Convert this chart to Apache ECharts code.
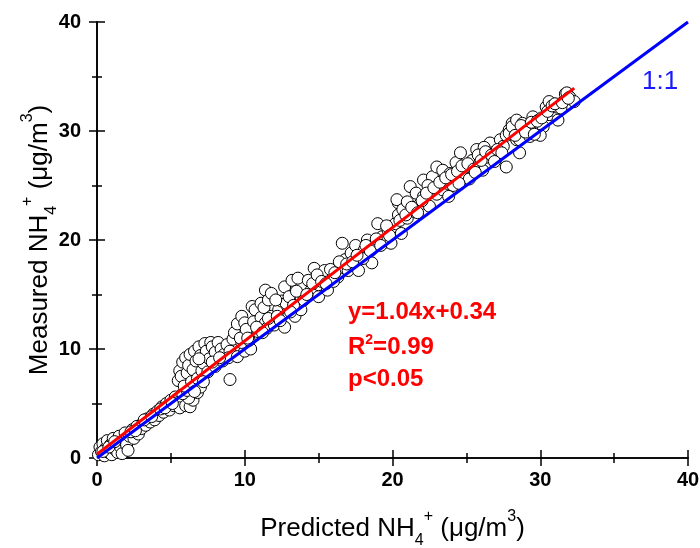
<!DOCTYPE html>
<html>
<head>
<meta charset="utf-8">
<script src="https://cdn.jsdelivr.net/npm/echarts@6/dist/echarts.min.js"></script>
<style>html,body{margin:0;padding:0;background:#fff}#c{width:700px;height:548px}</style>
</head>
<body>
<div id="c"></div>
<script>
// Predicted (x) and Measured (y) NH4+ values, µg/m3
const predicted = [
 0.1,0.2,0.3,0.4,0.5,0.6,0.7,0.8,0.9,1.0,1.1,1.2,1.3,1.4,1.5,1.6,1.7,1.8,1.9,2.0,2.1,2.2,2.4,2.5,2.7,2.8,3.0,3.1,
 3.3,3.4,3.6,3.8,3.9,4.1,4.2,4.4,4.5,4.7,4.9,5.0,5.2,5.3,5.5,
 5.6,6.0,6.3,6.5,6.2,6.8,7.0,5.8,6.1,
 5.5,5.6,5.7,5.8,5.9,6.0,6.1,6.2,6.3,6.4,6.5,6.6,6.7,6.8,6.9,7.0,7.1,7.2,7.3,7.4,7.6,7.7,7.8,8.0,8.2,8.4,8.6,8.8,9.0,9.2,9.0,7.5,8.0,8.5,8.9,
 9.5,10.0,10.4,9.8,
 9.3,9.5,9.7,9.8,10.0,10.1,10.3,10.5,10.6,10.7,10.9,11.1,11.1,11.3,11.4,11.4,11.5,11.6,11.8,11.8,12.0,12.3,12.5,12.7,12.7,12.9,13.2,13.4,13.6,13.8,13.8,
 14.3,14.5,14.7,15.0,15.0,15.4,15.6,15.9,16.3,16.5,16.6,16.8,17.0,17.2,17.5,17.7,17.9,18.1,18.3,18.6,18.8,19.0,19.3,19.5,19.7,19.9,20.0,20.2,20.4,20.4,20.5,20.6,14.0,16.0,18.0,
 20.3,20.7,21.0,21.2,21.5,21.6,21.8,22.1,22.1,22.5,22.7,23.0,23.0,23.4,23.4,23.7,23.9,24.1,24.3,24.6,24.8,25.0,25.2,25.4,25.7,25.9,26.1,26.4,26.6,26.8,27.0,27.3,27.5,27.7,27.9,28.1,28.4,27.7,26.2,22.4,21.0,
 27.9,28.1,28.4,28.6,28.6,28.9,29.1,29.3,29.5,29.7,29.9,30.2,30.4,30.6,30.6,30.9,31.1,31.4,31.7,31.8,32.0,32.3,30.0,31.2,28.8,29.3,
 10.2,10.8,11.2,11.6,12.2,12.4,12.8,13.0,13.3,13.5,13.1,12.1,
 14.2,14.6,14.9,15.2,15.5,15.8,16.1,16.4,16.9,17.3,17.6,18.2,18.5,18.9,19.2,19.6,19.8,
 20.9,21.3,21.7,22.0,22.3,22.8,23.2,23.6,24.0,24.4,24.7,25.1,25.5,25.8,26.0,26.3,26.7,27.1,27.4,24.5,25.6,26.9,23.8,
 28.3,28.7,29.0,29.4,29.8,30.1,30.5,30.8,31.0,31.5,31.9,29.6,
 0.4,0.8,1.2,2.3,2.6,3.2,3.7,4.3,4.6,5.1,6.6,7.2,7.8,8.3,6.9
];
const measured = [
 0.3,1.0,0.6,1.3,0.2,0.9,1.6,0.5,1.2,0.3,1.8,0.8,1.4,0.5,2.0,1.0,0.4,1.6,2.3,1.2,0.7,2.0,2.6,1.8,2.9,2.2,2.7,3.2,
 3.0,3.6,3.3,4.0,3.5,4.3,3.9,4.7,4.2,5.0,4.4,5.3,4.8,5.6,5.1,
 4.6,4.8,4.7,5.3,5.5,6.0,6.5,5.9,6.2,
 7.1,8.0,7.5,8.8,6.6,9.2,7.8,8.5,9.5,7.0,8.1,9.8,8.9,7.3,10.2,9.4,8.0,8.7,10.5,9.8,9.1,10.6,10.2,9.7,10.6,10.0,9.5,10.4,9.8,10.9,7.2,7.9,8.4,8.9,9.2,
 9.3,9.8,10.0,10.6,
 11.5,12.3,11.0,13.0,12.4,11.8,10.8,13.9,12.5,13.6,11.6,14.2,12.9,13.8,15.4,12.4,11.9,14.5,15.1,13.0,12.2,13.6,14.4,15.7,12.0,13.9,16.3,13.0,16.5,14.8,13.6,
 16.3,15.4,17.4,14.8,15.9,17.2,15.4,16.3,16.6,17.5,19.7,18.2,17.2,18.8,19.5,17.2,18.4,19.1,20.0,17.9,19.5,21.5,20.3,19.8,20.9,19.7,21.2,21.5,23.4,22.3,21.8,20.6,14.5,16.2,18.3,
 23.7,22.8,22.0,24.9,22.6,24.3,23.2,25.5,24.0,23.1,25.8,26.7,24.2,26.4,24.6,25.2,26.1,25.0,27.1,28.0,25.8,26.7,25.6,27.3,28.3,27.0,26.4,27.6,28.9,28.0,27.4,29.2,28.6,26.7,30.1,30.7,29.2,29.6,28.5,25.0,23.5,
 29.8,30.4,31.0,29.2,28.0,30.0,30.4,29.5,31.3,30.1,31.0,30.4,32.2,32.7,31.5,31.9,32.2,32.1,33.4,33.5,33.1,32.7,29.6,31.0,30.7,30.1,
 11.0,12.0,11.5,12.8,13.0,12.6,14.2,14.8,14.0,15.3,13.4,14.5,
 15.0,16.0,16.8,16.2,16.0,17.3,17.0,18.0,17.8,18.0,18.6,19.5,19.0,20.1,19.5,21.3,20.4,
 22.3,23.0,22.5,23.6,24.3,24.8,25.3,25.7,26.0,26.3,26.8,27.0,26.5,27.8,27.3,28.1,27.8,28.3,28.0,25.2,26.2,27.2,24.0,
 29.6,30.5,29.9,30.8,30.9,31.2,31.8,32.3,32.5,32.6,33.0,29.7,
 0.6,1.0,1.5,2.4,2.5,3.5,3.8,4.5,4.6,5.0,6.1,7.0,8.8,9.2,9.1
];
// Fit line y = 1.04x + 0.34 (end points) and 1:1 line
const fitX = [0, 32.3];
const fitY = [0.34, 33.93];
const oneX = [0, 40];
const oneY = [0, 40];
const axisTicks = [0, 10, 20, 30, 40];

const points = predicted.map((v, i) => [v, measured[i]]);
const fitData = fitX.map((v, i) => [v, fitY[i]]);
const oneData = oneX.map((v, i) => [v, oneY[i]]);

const FONT = 'Liberation Sans';
const titleRich = {
  m: {fontSize: 26, fontFamily: FONT, color: '#000', lineHeight: 40, verticalAlign: 'middle'},
  sub: {fontSize: 16, fontFamily: FONT, color: '#000', lineHeight: 40, verticalAlign: 'bottom'},
  sup: {fontSize: 16, fontFamily: FONT, color: '#000', lineHeight: 40, verticalAlign: 'top'}
};

function axisBase(extra) {
  return Object.assign({
    type: 'value', min: axisTicks[0], max: axisTicks[axisTicks.length - 1], interval: 10,
    axisLine: {show: true, lineStyle: {color: '#000', width: 1.6}},
    axisTick: {show: true, length: 8, lineStyle: {color: '#000', width: 1.5}},
    minorTick: {show: true, splitNumber: 2, length: 5, lineStyle: {color: '#000', width: 1.5}},
    splitLine: {show: false},
    axisLabel: {show: true, fontFamily: FONT, fontWeight: 'bold', fontSize: 20, color: '#000'}
  }, extra);
}

const chart = echarts.init(document.getElementById('c'), null, {renderer: 'canvas'});
chart.setOption({
  animation: false,
  backgroundColor: '#fff',
  grid: {left: 97, right: 12, top: 22, bottom: 90, containLabel: false, outerBoundsMode: 'none'},
  title: [
    {text: 'y=1.04x+0.34', left: 348, top: 298, padding: 0,
     textStyle: {fontFamily: FONT, fontWeight: 'bold', fontSize: 24, color: '#ff0000', lineHeight: 28}},
    {text: '{a|R}{s|2}{a|=0.99}', left: 348, top: 333, padding: 0,
     textStyle: {rich: {
       a: {fontFamily: FONT, fontWeight: 'bold', fontSize: 24, color: '#ff0000', lineHeight: 28, verticalAlign: 'middle'},
       s: {fontFamily: FONT, fontWeight: 'bold', fontSize: 14, color: '#ff0000', lineHeight: 28, verticalAlign: 'top'}}}},
    {text: 'p<0.05', left: 348, top: 365, padding: 0,
     textStyle: {fontFamily: FONT, fontWeight: 'bold', fontSize: 24, color: '#ff0000', lineHeight: 28}},
    {text: '1:1', left: 642, top: 67, padding: 0,
     textStyle: {fontFamily: FONT, fontWeight: 'normal', fontSize: 26, color: '#1a1aff', lineHeight: 30}}
  ],
  xAxis: [
    axisBase({position: 'bottom', axisLabel: {show: true, margin: 12, fontFamily: FONT, fontWeight: 'bold', fontSize: 20, color: '#000'},
      name: '{m|Predicted NH}{sub|4}{sup|+}{m| (μg/m}{sup|3}{m|)}',
      nameLocation: 'middle', nameGap: 51, nameMoveOverlap: false, nameTextStyle: {rich: titleRich}}),
    axisBase({position: 'top', axisLabel: {show: false}})
  ],
  yAxis: [
    axisBase({position: 'left', axisLabel: {show: true, margin: 16, fontFamily: FONT, fontWeight: 'bold', fontSize: 20, color: '#000'},
      name: '{m|Measured NH}{sub|4}{sup|+}{m| (μg/m}{sup|3}{m|)}',
      nameLocation: 'middle', nameGap: 37, nameRotate: 90, nameMoveOverlap: false, nameTextStyle: {rich: titleRich}}),
    axisBase({position: 'right', axisLabel: {show: false}})
  ],
  series: [
    {type: 'scatter', data: points, symbol: 'circle', symbolSize: 12,
     itemStyle: {color: '#fff', borderColor: '#000', borderWidth: 1, opacity: 1}, z: 2},
    {type: 'line', data: fitData, showSymbol: false, symbol: 'none',
     lineStyle: {color: '#ff0000', width: 3}, z: 3},
    {type: 'line', data: oneData, showSymbol: false, symbol: 'none',
     lineStyle: {color: '#0000ff', width: 3}, z: 4}
  ]
});
</script>
</body>
</html>
